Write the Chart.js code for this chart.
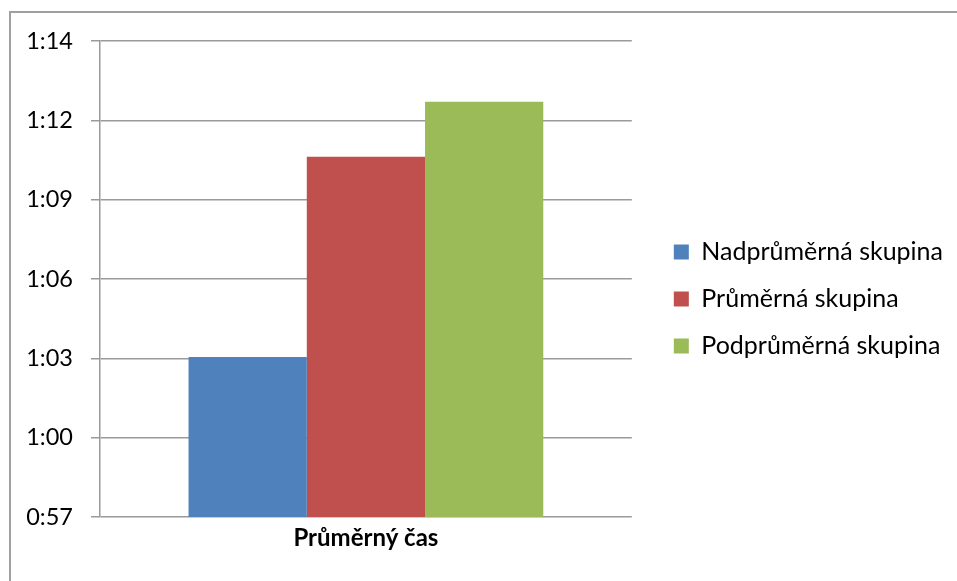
<!DOCTYPE html>
<html lang="cs">
<head>
<meta charset="utf-8">
<title>Průměrný čas</title>
<script src="https://cdn.jsdelivr.net/npm/chart.js@4/dist/chart.umd.min.js"></script>
<style>
  html, body { margin: 0; padding: 0; background: #ffffff; }
  #wrap { position: relative; width: 957px; height: 581px; }
  canvas { display: block; }
</style>
</head>
<body>
<div id="wrap"><canvas id="chart" width="957" height="581"></canvas></div>
<script>
// Kategorie na ose X
const categories = ['Průměrný čas'];

// Názvy skupin (legenda)
const seriesNames = ['Nadprůměrná skupina', 'Průměrná skupina', 'Podprůměrná skupina'];

// Průměrné časy v sekundách
const nadprumerna = [62.85];
const prumerna = [70.17];
const podprumerna = [72.18];

// Popisky osy Y (m:ss)
const tickLabels = ['0:57', '1:00', '1:03', '1:06', '1:09', '1:12', '1:14'];
const axisMin = 57;
const axisStep = 2.9;

const colors = ['#4F81BD', '#C0504D', '#9BBB59'];
const gridColor = '#9a9a9a';

// Šedý rámeček grafu (levá a horní hrana)
const framePlugin = {
  id: 'frame',
  beforeDraw(chart) {
    const ctx = chart.ctx;
    ctx.save();
    ctx.strokeStyle = '#a0a0a0';
    ctx.lineWidth = 2;
    ctx.beginPath();
    ctx.moveTo(10, chart.height);
    ctx.lineTo(10, 12);
    ctx.lineTo(chart.width, 12);
    ctx.stroke();
    ctx.restore();
  }
};

const seriesValues = [nadprumerna, prumerna, podprumerna];

new Chart(document.getElementById('chart'), {
  type: 'bar',
  data: {
    labels: categories,
    datasets: seriesNames.map((name, i) => ({
      label: name,
      data: seriesValues[i],
      backgroundColor: colors[i],
      borderWidth: 0,
      barPercentage: 1,
      categoryPercentage: 0.667
    }))
  },
  plugins: [framePlugin],
  options: {
    responsive: false,
    animation: false,
    events: [],
    layout: { padding: { left: 0, right: 4, top: 41, bottom: 24 } },
    plugins: {
      tooltip: { enabled: false },
      title: { display: false },
      legend: {
        position: 'right',
        maxWidth: 310,
        labels: {
          boxWidth: 15,
          boxHeight: 15,
          padding: 22,
          color: '#000000',
          font: { family: 'Lato', size: 25 }
        }
      }
    },
    scales: {
      x: {
        grid: { display: false, drawTicks: false },
        border: { display: false },
        ticks: {
          color: '#000000',
          padding: 7,
          font: { family: 'Lato', size: 24, weight: 'bold' }
        },
        afterFit(scale) { scale.height = 40; }
      },
      y: {
        min: axisMin,
        max: axisMin + axisStep * (tickLabels.length - 1),
        grid: { color: gridColor, lineWidth: 1.5, tickLength: 9, drawTicks: true },
        border: { display: true, color: gridColor, width: 1.5 },
        afterBuildTicks(scale) {
          scale.ticks = tickLabels.map((_, i) => ({ value: axisMin + i * axisStep }));
        },
        ticks: {
          color: '#000000',
          padding: 18,
          font: { family: 'Lato', size: 23.5 },
          callback: (value, index) => tickLabels[index]
        },
        afterFit(scale) { scale.width = 100; }
      },
      gap: {
        type: 'linear',
        position: 'right',
        display: true,
        grid: { display: false, drawTicks: false },
        border: { display: false },
        ticks: { display: false },
        afterFit(scale) { scale.width = 20; }
      }
    }
  }
});
</script>
</body>
</html>
